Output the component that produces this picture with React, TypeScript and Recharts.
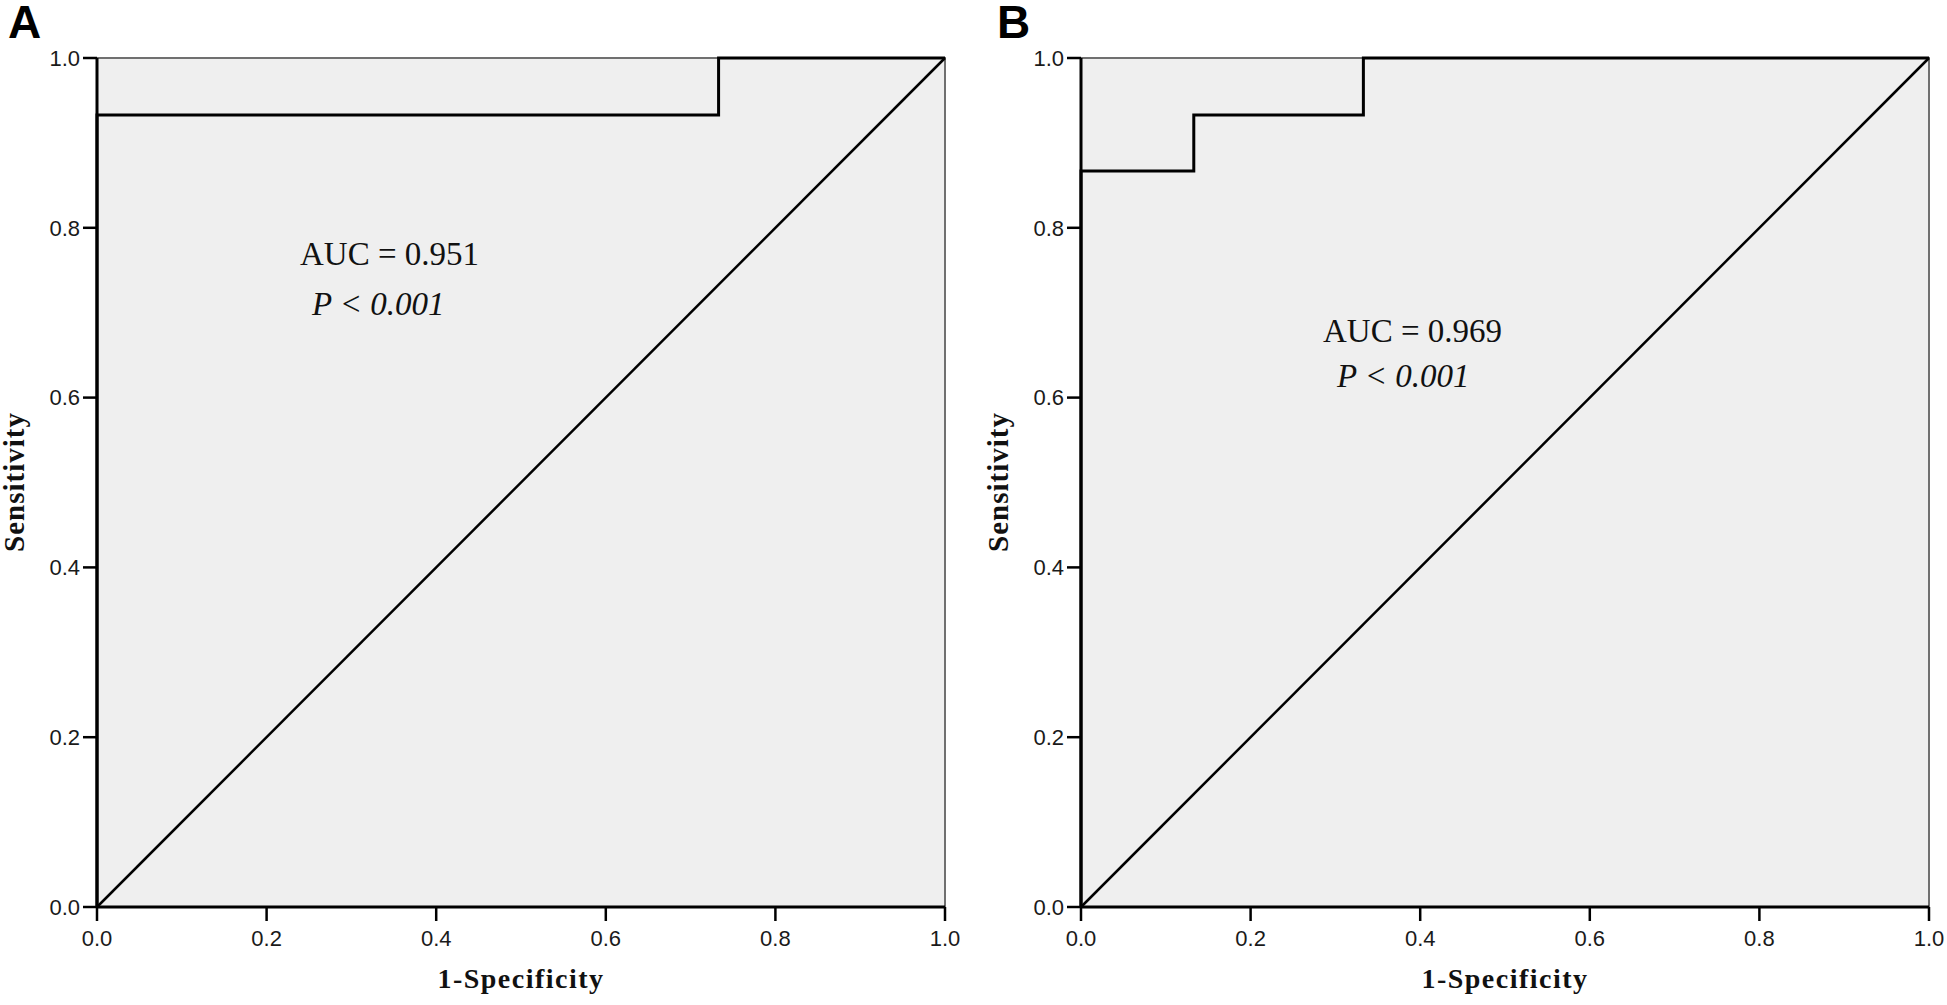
import { LineChart, Line, XAxis, YAxis, ReferenceArea } from "recharts";

// ROC curve points (1-specificity, sensitivity)
const fprA = [0, 0, 0.733, 0.733, 1];
const tprA = [0, 0.933, 0.933, 1, 1];
const fprB = [0, 0, 0.133, 0.133, 0.333, 0.333, 1];
const tprB = [0, 0.867, 0.867, 0.933, 0.933, 1, 1];
const refX = [0, 1];
const refY = [0, 1];
const axisTicks = [0, 0.2, 0.4, 0.6, 0.8, 1.0];

const toPoints = (xs: number[], ys: number[]) => xs.map((x, i) => ({ x, y: ys[i] }));

const tickStyle = { fontSize: 22, fill: "#1a1a1a", fontFamily: "'Liberation Sans', Arial, sans-serif" };
const serif = "'Liberation Serif', 'Times New Roman', serif";

interface PanelProps {
  fpr: number[];
  tpr: number[];
  left: number;
}

function RocPanel({ fpr, tpr, left }: PanelProps) {
  return (
    <div style={{ position: "absolute", left, top: 0 }}>
      <LineChart width={960} height={1005} margin={{ top: 58, right: 15, bottom: 48, left: 37 }}>
        <XAxis
          type="number" dataKey="x" domain={[0, 1]} ticks={axisTicks}
          tickFormatter={(v: number) => v.toFixed(1)} tick={tickStyle}
          tickSize={14} tickMargin={9} height={50}
          axisLine={{ stroke: "#000", strokeWidth: 3 }} tickLine={{ stroke: "#000", strokeWidth: 2.5 }}
        />
        <YAxis
          type="number" dataKey="y" domain={[0, 1]} ticks={axisTicks}
          tickFormatter={(v: number) => v.toFixed(1)} tick={tickStyle}
          tickSize={14} tickMargin={3} width={60}
          axisLine={{ stroke: "#000", strokeWidth: 3 }} tickLine={{ stroke: "#000", strokeWidth: 2.5 }}
        />
        <ReferenceArea x1={0} x2={1} y1={0} y2={1} fill="#efefef" fillOpacity={1} stroke="#707070" strokeWidth={2} />
        <Line data={toPoints(refX, refY)} dataKey="y" type="linear" stroke="#000" strokeWidth={2.5} dot={false} isAnimationActive={false} />
        <Line data={toPoints(fpr, tpr)} dataKey="y" type="linear" stroke="#000" strokeWidth={3} dot={false} isAnimationActive={false} />
      </LineChart>
    </div>
  );
}

export default function App() {
  return (
    <div style={{ position: "absolute", left: 0, top: 0, width: 1947, height: 1005, background: "#fff" }}>
      <RocPanel fpr={fprA} tpr={tprA} left={0} />
      <RocPanel fpr={fprB} tpr={tprB} left={984} />
      <svg width={1947} height={1005} style={{ position: "absolute", left: 0, top: 0, pointerEvents: "none" }}>
        <text x={8} y={38} fontFamily="'Liberation Sans', Arial, sans-serif" fontWeight="bold" fontSize={46}>A</text>
        <text x={997} y={38} fontFamily="'Liberation Sans', Arial, sans-serif" fontWeight="bold" fontSize={46}>B</text>

        <text x={300} y={265} fontFamily={serif} fontSize={33} fill="#111">AUC = 0.951</text>
        <text x={312} y={315} fontFamily={serif} fontSize={33} fontStyle="italic" fill="#111">P &lt; 0.001</text>
        <text x={1323} y={342} fontFamily={serif} fontSize={33} fill="#111">AUC = 0.969</text>
        <text x={1337} y={387} fontFamily={serif} fontSize={33} fontStyle="italic" fill="#111">P &lt; 0.001</text>

        <text x={521} y={988} textAnchor="middle" fontFamily={serif} fontWeight="bold" fontSize={28} letterSpacing={1.5} fill="#111">1-Specificity</text>
        <text x={1505} y={988} textAnchor="middle" fontFamily={serif} fontWeight="bold" fontSize={28} letterSpacing={1.5} fill="#111">1-Specificity</text>
        <text x={24} y={482} transform="rotate(-90 24 482)" textAnchor="middle" fontFamily={serif} fontWeight="bold" fontSize={29} letterSpacing={1} fill="#111">Sensitivity</text>
        <text x={1008} y={482} transform="rotate(-90 1008 482)" textAnchor="middle" fontFamily={serif} fontWeight="bold" fontSize={29} letterSpacing={1} fill="#111">Sensitivity</text>
      </svg>
    </div>
  );
}
